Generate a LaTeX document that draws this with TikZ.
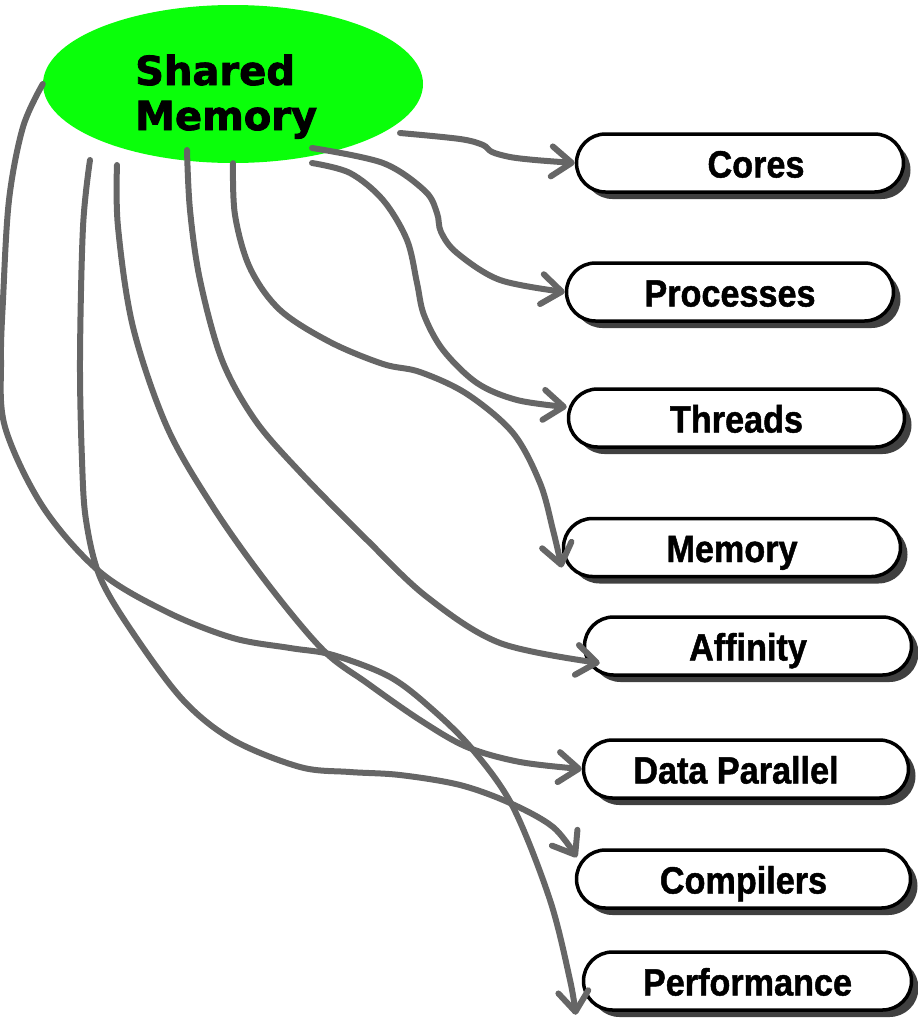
\documentclass[tikz,border=0pt]{standalone}
\usepackage{fontspec}
\usetikzlibrary{shapes.geometric,shadows,arrows.meta}
\newfontfamily\boxfont[FakeStretch=0.9,FakeBold=1.2]{Liberation Sans Bold}
\newfontfamily\titlefont[FakeBold=2]{DejaVu Sans Bold}
\definecolor{linegray}{HTML}{666666}
\definecolor{smgreen}{HTML}{0AFF0A}
\definecolor{shadowgray}{HTML}{404040}
\begin{document}
\begin{tikzpicture}[x=1pt,y=-1pt,
  conn/.style={draw=linegray, line width=6pt, line cap=round, line join=round,
    -{Straight Barb[length=20pt,width=30pt,round]}},
  topic/.style={draw=black, line width=3.5pt, fill=white, rounded corners=29pt,
    minimum height=58pt, inner sep=0pt,
    font=\boxfont\fontsize{38}{40}\selectfont, text height=29pt, text depth=0pt,
    drop shadow={shadow xshift=7pt, shadow yshift=-7pt, fill=shadowgray, opacity=1}},
  title/.style={anchor=base west, inner sep=0pt, font=\titlefont\fontsize{40}{44}\selectfont}
  ]
\useasboundingbox (0,0) rectangle (918,1018);

% central ellipse
\node[ellipse, fill=smgreen, minimum width=380pt, minimum height=158pt, inner sep=0pt] (sm) at (233,84) {};
\node[title] (t1) at (135,85) {Shared};
\node[title] (t2) at (135,130) {Memory};

% topic boxes
\node[topic, minimum width=327pt] (cores) at (740,163) {\hspace*{32pt}Cores};
\node[topic, minimum width=327pt] (proc) at (730,292) {Processes};
\node[topic, minimum width=336pt] (threads) at (736.5,418) {Threads};
\node[topic, minimum width=337pt] (mem) at (732,547.5) {Memory};
\node[topic, minimum width=327pt] (aff) at (748,646) {Affinity};
\node[topic, minimum width=325pt] (dp) at (746,769) {Data Parallel\hspace*{20pt}};
\node[topic, minimum width=334pt] (comp) at (743.5,879) {Compilers};
\node[topic, minimum width=328pt] (perf) at (747.5,981) {Performance};

% start points on the ellipse
\coordinate (s1) at ([shift={(167,49)}]sm.center);
\coordinate (s2) at ([shift={(79,64)}]sm.center);
\coordinate (s3) at ([shift={(79,79)}]sm.center);
\coordinate (s5) at ([shift={(-46,66)}]sm.center);
\coordinate (s6) at ([shift={(-116,81)}]sm.center);
\coordinate (s7) at ([shift={(-143,76)}]sm.center);

% connectors
\draw[conn] plot[smooth, tension=0.55] coordinates {(s1) (460,139) (483,145) (492,152) (510,157) (535,160) (cores.west)};
\draw[conn] plot[smooth, tension=0.55] coordinates {(s2) (383,163) (425,191) (437,213) (441,232) (457,253) (500,280) (proc.west)};
\draw[conn] plot[smooth, tension=0.55] coordinates {(s3) (350,173) (383,200) (407,240) (417,283) (424,315) (443,350) (477,383) (517,400) ([yshift=11pt]threads.west)};
\draw[conn] plot[smooth, tension=0.55] coordinates {(sm.south) (235,215) (250,268) (280,310) (330,342) (383,364) (420,372) (467,394) (513,433) (540,483) (553,530) ([yshift=-20pt]mem.west)};
\draw[conn] plot[smooth, tension=0.55] coordinates {(s5) (190,210) (200,280) (222,360) (255,420) (300,472) (367,540) (427,597) (500,643) ([shift={(17,17)}]aff.west)};
\draw[conn] plot[smooth, tension=0.55] coordinates {(s6) (118,227) (133,327) (167,427) (213,507) (267,583) (323,650) (367,683) (420,720) (467,747) (520,762) (dp.west)};
\draw[conn] plot[smooth, tension=0.55] coordinates {(s7) (83,227) (80,360) (82,460) (86,520) (100,577) (133,633) (183,700) (233,740) (300,767) (350,772) (400,775) (460,785) (510,803) (553,827) ([shift={(2,9)}]comp.north west)};
\draw[conn] plot[smooth, tension=0.55] coordinates {(sm.west) (23,127) (9,200) (3,300) (1,360) (5,427) (43,507) (100,572) (167,612) (233,638) (290,648) (333,655) (390,677) (433,710) (473,750) (513,807) (550,900) (570,980) ([shift={(-6,3)}]perf.south west)};
\end{tikzpicture}
\end{document}
